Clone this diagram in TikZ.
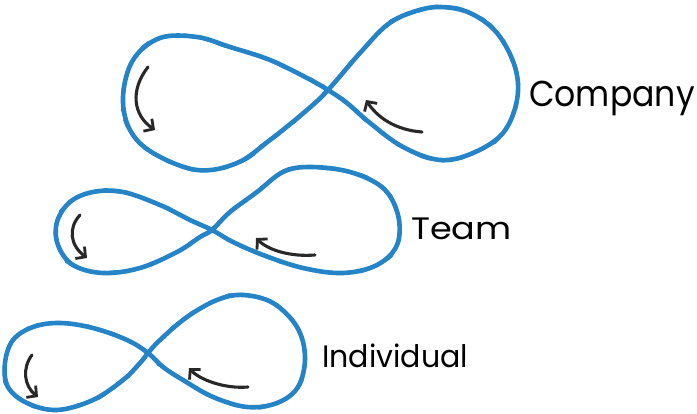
\documentclass[tikz,border=0pt]{standalone}
\usepackage{fontspec}
\setmainfont{Poppins}
\usetikzlibrary{arrows.meta,decorations.pathmorphing}
\definecolor{loopblue}{RGB}{37,132,199}
\definecolor{arrowgray}{RGB}{40,40,40}
\pgfmathsetseed{7}
\tikzset{
  loopline/.style={draw=loopblue, line width=4.6pt, line join=round, line cap=round},
  roughline/.style={draw=loopblue, line width=2.8pt, line join=round, line cap=round,
    decorate, decoration={random steps, segment length=6pt, amplitude=1.1pt}},
  turnarrow/.style={draw=arrowgray, line width=3.1pt, line cap=round, -{Straight Barb[length=7pt,width=15pt,line width=2.8pt]}},
  label/.style={font=\fontsize{#1}{#1}\selectfont, text=black, inner sep=0pt, anchor=base west},
}
\def\companypts{(328,90) (307,78) (270,60) (230,47) (197,37) (160,38) (133,60) (123,97) (130,130) (153,153) (197,170) (237,163) (270,140) (307,110)
 (328,90) (360,53) (387,25) (413,12) (440,7) (470,13) (497,33) (515,67) (517,100) (503,133) (473,153) (440,160) (403,147) (370,123) (347,103)}
\def\teampts{(212,230) (190,220) (160,205) (123,192) (93,192) (70,202) (57,222) (58,245) (73,265) (103,273) (140,268) (177,252) (200,237)
 (212,230) (230,212) (257,192) (283,172) (310,167) (350,172) (383,188) (398,215) (397,245) (377,265) (343,273) (303,268) (263,255) (233,242)}
\def\indivpts{(148,353) (127,340) (93,328) (60,323) (33,327) (13,340) (5,363) (8,387) (27,403) (57,410) (93,400) (123,380) (140,363)
 (148,353) (160,340) (187,317) (217,300) (243,295) (273,303) (297,327) (305,357) (298,387) (277,403) (247,407) (213,397) (183,380) (163,367)}
\begin{document}
\begin{tikzpicture}[x=1pt,y=-1pt]
\useasboundingbox (0,0) rectangle (697,414);
% loops: smooth stroke plus a rough overlay
\foreach \pts in {\companypts,\teampts,\indivpts}{
  \draw[loopline] plot[smooth cycle, tension=0.6] coordinates {\pts};
  \draw[roughline] plot[smooth cycle, tension=0.6] coordinates {\pts};
}
% arrows
\coordinate (ca1) at (148,67); \coordinate (ca2) at (155,130);
\coordinate (cb1) at (422,132); \coordinate (cb2) at (366,100);
\coordinate (ta1) at (80,215); \coordinate (ta2) at (87,258);
\coordinate (tb1) at (315,255); \coordinate (tb2) at (256,238);
\coordinate (ia1) at (32,355); \coordinate (ia2) at (38,397);
\coordinate (ib1) at (248,387); \coordinate (ib2) at (189,368);
\draw[turnarrow] (ca1) .. controls (130,90) and (133,115) .. (ca2);
\draw[turnarrow] (cb1) .. controls (395,130) and (377,117) .. (cb2);
\draw[turnarrow] (ta1) .. controls (68,228) and (70,245) .. (ta2);
\draw[turnarrow] (tb1) .. controls (290,257) and (268,250) .. (tb2);
\draw[turnarrow] (ia1) .. controls (22,368) and (24,386) .. (ia2);
\draw[turnarrow] (ib1) .. controls (225,389) and (200,380) .. (ib2);
% labels
\node[label=36, xscale=0.92] (company) at (529,107) {Company};
\node[label=31, xscale=1.13] (team) at (411,240) {Team};
\node[label=31, xscale=0.97] (individual) at (322,367) {Individual};
\end{tikzpicture}
\end{document}
